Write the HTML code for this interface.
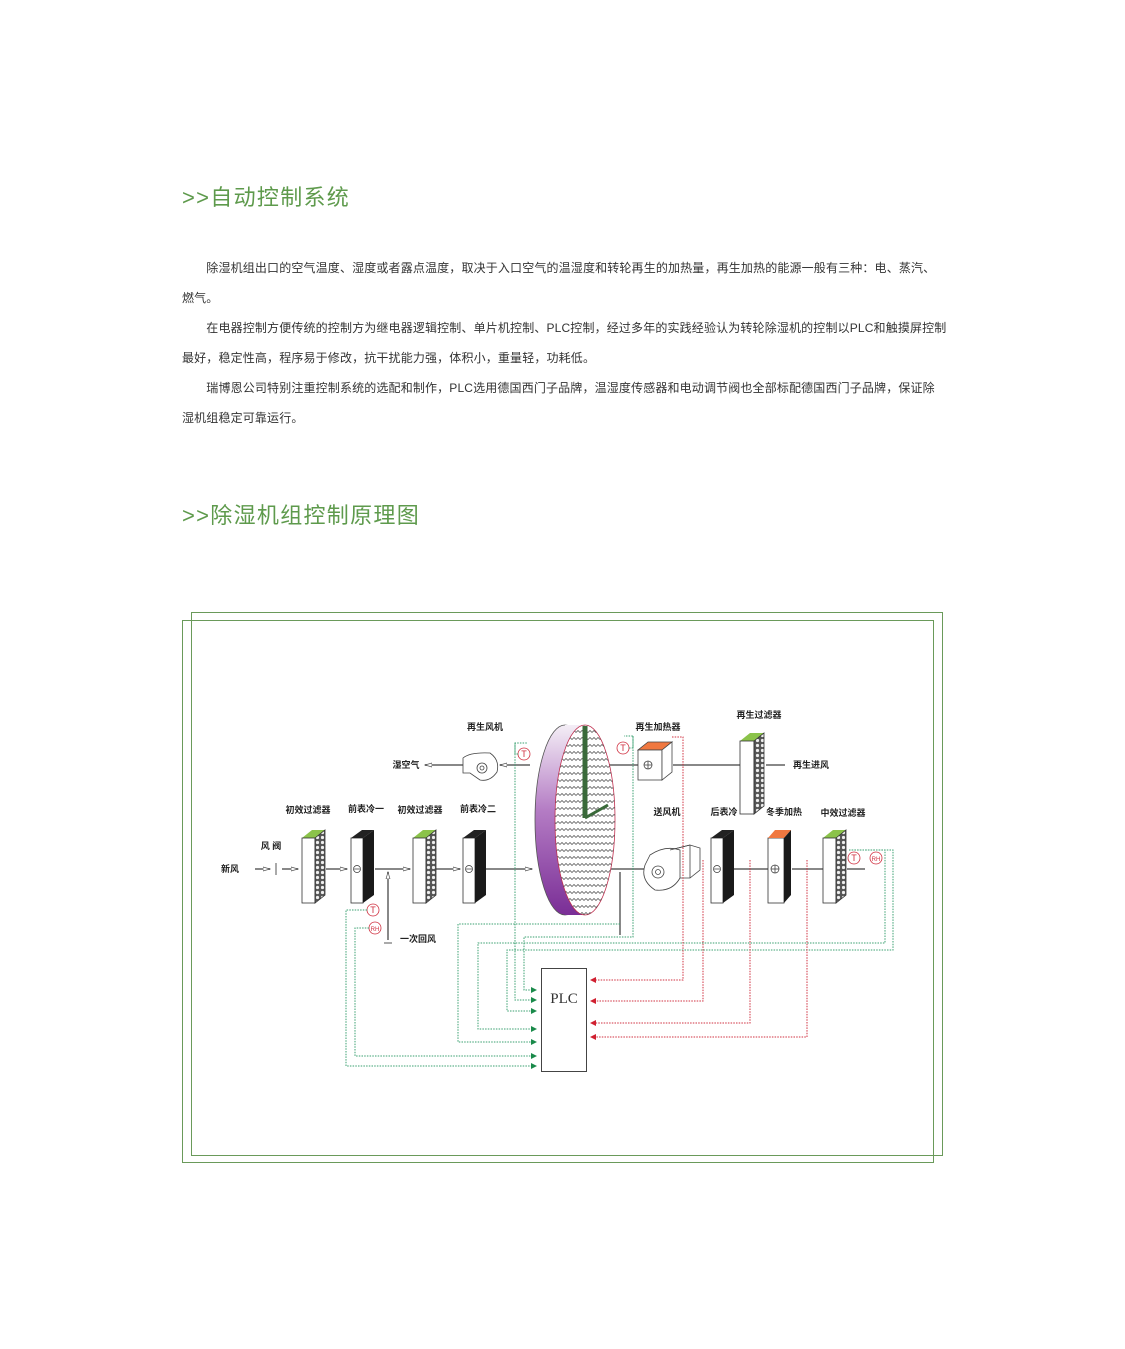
<!DOCTYPE html>
<html><head><meta charset="utf-8"><style>
body{margin:0;background:#fff;}
.pg{position:relative;width:1125px;height:1349px;overflow:hidden;font-family:"Liberation Sans","Noto Sans CJK SC",sans-serif;}
.h{position:absolute;left:182px;color:#5e9a4c;font-size:22px;letter-spacing:1.3px;line-height:30px;}
.p{position:absolute;left:182px;width:770px;font-size:12px;color:#333;line-height:30px;letter-spacing:0.15px;}
.p div{white-space:nowrap}
svg{position:absolute;left:0;top:0}
</style></head><body><div class="pg">
<div class="h" style="top:183px">&gt;&gt;自动控制系统</div>
<div class="p" style="top:253px">
<div>&emsp;&emsp;除湿机组出口的空气温度、湿度或者露点温度，取决于入口空气的温湿度和转轮再生的加热量，再生加热的能源一般有三种：电、蒸汽、</div>
<div>燃气。</div>
<div>&emsp;&emsp;在电器控制方便传统的控制方为继电器逻辑控制、单片机控制、PLC控制，经过多年的实践经验认为转轮除湿机的控制以PLC和触摸屏控制</div>
<div>最好，稳定性高，程序易于修改，抗干扰能力强，体积小，重量轻，功耗低。</div>
<div>&emsp;&emsp;瑞博恩公司特别注重控制系统的选配和制作，PLC选用德国西门子品牌，温湿度传感器和电动调节阀也全部标配德国西门子品牌，保证除</div>
<div>湿机组稳定可靠运行。</div>
</div>
<div class="h" style="top:501px">&gt;&gt;除湿机组控制原理图</div>
<svg width="1125" height="1349" viewBox="0 0 1125 1349" font-family="Liberation Sans,Noto Sans CJK SC,sans-serif">
<defs>
<linearGradient id="pur" x1="0" y1="0" x2="0" y2="1"><stop offset="0" stop-color="#f4eef6"/><stop offset="0.45" stop-color="#b47cc4"/><stop offset="1" stop-color="#7a2e96"/></linearGradient>
<pattern id="zig" width="8" height="7" patternUnits="userSpaceOnUse"><path d="M0 4.5 L2 2.5 L4 4.5 L6 2.5 L8 4.5" fill="none" stroke="#444" stroke-width="0.7"/></pattern>
<pattern id="dots" width="5" height="5" patternUnits="userSpaceOnUse"><rect width="5" height="5" fill="#555"/><circle cx="2.5" cy="2.5" r="1.6" fill="#eee"/></pattern>
<marker id="ga" markerUnits="userSpaceOnUse" markerWidth="6" markerHeight="6" refX="5" refY="3" orient="auto"><path d="M0 0L6 3L0 6z" fill="#1a8a4a"/></marker>
<marker id="ra" markerUnits="userSpaceOnUse" markerWidth="6" markerHeight="6" refX="5" refY="3" orient="auto"><path d="M0 0L6 3L0 6z" fill="#d02030"/></marker>
<marker id="wa" markerUnits="userSpaceOnUse" markerWidth="8" markerHeight="6" refX="7" refY="3" orient="auto"><path d="M0 1L7 3L0 5z" fill="#fff" stroke="#555" stroke-width="0.7"/></marker>
</defs>
<rect x="191.5" y="612.5" width="751" height="543" fill="none" stroke="#6a9a5a" stroke-width="1"/>
<rect x="182.5" y="620.5" width="751" height="542" fill="none" stroke="#6a9a5a" stroke-width="1"/>

<g stroke="#888" stroke-width="2" fill="none">
<line x1="255" y1="869" x2="270" y2="869" marker-end="url(#wa)"/>
<line x1="282" y1="869" x2="298" y2="869" marker-end="url(#wa)"/>
<line x1="326" y1="869" x2="347" y2="869" marker-end="url(#wa)"/>
<line x1="375" y1="869" x2="410" y2="869" marker-end="url(#wa)"/>
<line x1="436" y1="869" x2="460" y2="869" marker-end="url(#wa)"/>
<line x1="486" y1="869" x2="532" y2="869" marker-end="url(#wa)"/>
<line x1="605" y1="869" x2="650" y2="869"/>
<line x1="734" y1="869" x2="768" y2="869"/>
<line x1="792" y1="869" x2="823" y2="869"/>
<line x1="847" y1="869" x2="865" y2="869"/>
<line x1="388" y1="940" x2="388" y2="872" marker-end="url(#wa)"/>
<line x1="620" y1="935" x2="620" y2="872"/>
<line x1="530" y1="765" x2="500" y2="765" marker-end="url(#wa)"/>
<line x1="463" y1="765" x2="425" y2="765" marker-end="url(#wa)"/>
<line x1="600" y1="765" x2="638" y2="765"/>
<line x1="673" y1="765" x2="740" y2="765"/>
<line x1="785" y1="765" x2="766" y2="765"/>
</g>
<line x1="276" y1="863" x2="276" y2="875" stroke="#555"/>
<line x1="384" y1="943" x2="392" y2="943" stroke="#555"/>

<g id="f1">
<polygon points="302,838 315,838 325,830 312,830" fill="#8bc34a"/>
<rect x="302" y="838" width="13" height="65" fill="#fff" stroke="#333" stroke-width="0.8"/>
<polygon points="315,838 325,830 325,895 315,903" fill="url(#dots)" stroke="#333" stroke-width="0.8"/>
</g>
<use href="#f1" x="111" y="0"/>
<use href="#f1" x="521" y="0"/>
<g transform="translate(740,733)">
<polygon points="0,8 14,8 24,0 10,0" fill="#8bc34a"/>
<rect x="0" y="8" width="14" height="73" fill="#fff" stroke="#333" stroke-width="0.8"/>
<polygon points="14,8 24,0 24,73 14,81" fill="url(#dots)" stroke="#333" stroke-width="0.8"/>
</g>
<g id="c1">
<rect x="351" y="838" width="12" height="65" fill="#fff" stroke="#333" stroke-width="0.8"/>
<polygon points="351,838 363,838 374,830 362,830" fill="#222"/>
<polygon points="363,838 374,830 374,895 363,903" fill="#1a1a1a"/>
<circle cx="357" cy="869" r="3.5" fill="none" stroke="#333" stroke-width="0.7"/><line x1="354" y1="869" x2="360" y2="869" stroke="#333" stroke-width="0.7"/>
</g>
<use href="#c1" x="112" y="0"/>
<use href="#c1" x="360" y="0"/>
<g>
<rect x="768" y="838" width="16" height="65" fill="#fff" stroke="#333" stroke-width="0.8"/>
<polygon points="768,838 784,838 791,830 775,830" fill="#f07840"/>
<polygon points="784,838 791,830 791,895 784,903" fill="#1a1a1a"/>
<circle cx="775" cy="869" r="4" fill="none" stroke="#333" stroke-width="0.7"/><path d="M771 869h8M775 865v8" stroke="#333" stroke-width="0.7"/>
</g>

<ellipse cx="565" cy="820" rx="30" ry="95" fill="url(#pur)" stroke="#555" stroke-width="0.8"/>
<path d="M565 725 L585 725 L585 915 L565 915 Z" fill="url(#pur)"/>
<ellipse cx="585" cy="820" rx="30" ry="95" fill="#fff" stroke="#c03050" stroke-width="0.8"/>
<ellipse cx="585" cy="820" rx="30" ry="95" fill="url(#zig)"/>
<line x1="585" y1="726" x2="585" y2="818" stroke="#3a6a3a" stroke-width="5"/>
<line x1="585" y1="818" x2="608" y2="805" stroke="#3a6a3a" stroke-width="3"/>

<g stroke="#444" fill="#fff" stroke-width="0.8">
<path d="M463 758 Q470 752 490 753 Q500 760 497 772 Q490 782 480 780 L470 773 L463 773 Z"/>
<circle cx="482" cy="768" r="5"/><circle cx="482" cy="768" r="2"/>
</g>
<g stroke="#444" stroke-width="0.8">
<polygon points="638,750 662,750 672,742 648,742" fill="#f07840"/>
<rect x="638" y="750" width="24" height="30" fill="#fff"/>
<polygon points="662,750 672,742 672,772 662,780" fill="#fff"/>
<circle cx="648" cy="765" r="4" fill="none"/><path d="M644 765h8M648 761v8" fill="none"/>
</g>
<g stroke="#444" fill="#fff" stroke-width="0.8">
<path d="M670 850 L690 845 L700 848 L700 870 L690 878 L670 878 Z"/>
<path d="M650 855 Q665 845 680 850 L680 878 Q672 892 655 890 Q640 880 645 865 Z"/>
<circle cx="658" cy="872" r="6"/><circle cx="658" cy="872" r="2.5"/>
<line x1="670" y1="850" x2="690" y2="845"/><line x1="690" y1="845" x2="690" y2="878"/>
</g>

<g fill="none" stroke="#d03040" stroke-width="0.8">
<circle cx="373" cy="910" r="6"/><circle cx="375" cy="928" r="6"/>
<circle cx="524" cy="754" r="6"/><circle cx="623" cy="748" r="6"/>
<circle cx="854" cy="858" r="6"/><circle cx="876" cy="858" r="6"/>
</g>
<g fill="#d03040" font-size="9" text-anchor="middle">
<text x="373" y="913">T</text><text x="375" y="931" font-size="6">RH</text>
<text x="524" y="757">T</text><text x="623" y="751">T</text>
<text x="854" y="861">T</text><text x="876" y="861" font-size="6">RH</text>
</g>

<rect x="541.5" y="968.5" width="45" height="103" fill="#fff" stroke="#444"/>
<text x="564" y="1003" font-size="15" text-anchor="middle" font-family="Liberation Serif,serif" fill="#333">PLC</text>

<g fill="none" stroke="#3aa070" stroke-width="1" stroke-dasharray="1.5,1.2">
<path d="M367 910 H346 V1066 H536" marker-end="url(#ga)"/>
<path d="M369 928 H355 V1056 H536" marker-end="url(#ga)"/>
<path d="M620 924 H458 V1042 H536" marker-end="url(#ga)"/>
<path d="M849 850 H885 V943 H478 V1029 H536" marker-end="url(#ga)"/>
<path d="M849 850 H893 V950 H507 V1011 H536" marker-end="url(#ga)"/>
<path d="M518 754 H515 V743 H527 M515 743 V1000 H536" marker-end="url(#ga)"/>
<path d="M629 748 H633 V736 H624 M633 736 V937 H524 V990 H536" marker-end="url(#ga)"/>
</g>
<g fill="none" stroke="#d03040" stroke-width="1" stroke-dasharray="1.5,1.2">
<path d="M672 737 H683 V980 H591" marker-end="url(#ra)"/>
<path d="M703 860 V1001 H591" marker-end="url(#ra)"/>
<path d="M750 860 V1023 H591" marker-end="url(#ra)"/>
<path d="M807 860 V1037 H591" marker-end="url(#ra)"/>
</g>

<g font-size="9" font-weight="bold" fill="#222" text-anchor="middle">
<text x="485" y="730">再生风机</text>
<text x="406" y="768">湿空气</text>
<text x="658" y="730">再生加热器</text>
<text x="759" y="718">再生过滤器</text>
<text x="811" y="768">再生进风</text>
<text x="308" y="813">初效过滤器</text>
<text x="366" y="812">前表冷一</text>
<text x="420" y="813">初效过滤器</text>
<text x="478" y="812">前表冷二</text>
<text x="667" y="815">送风机</text>
<text x="724" y="815">后表冷</text>
<text x="784" y="815">冬季加热</text>
<text x="843" y="816">中效过滤器</text>
<text x="271" y="849">风 阀</text>
<text x="230" y="872">新风</text>
<text x="418" y="942">一次回风</text>
</g>
</svg>
</div></body></html>
